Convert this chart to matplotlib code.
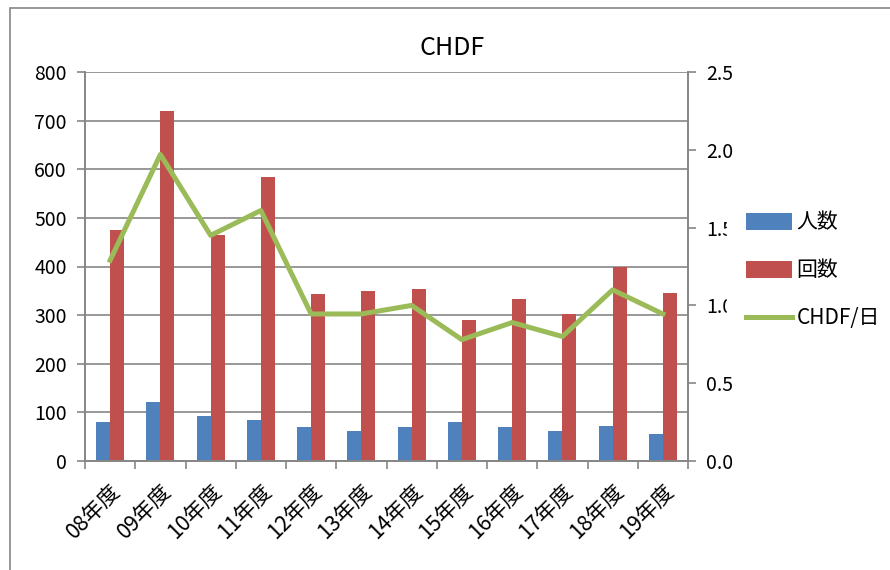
import matplotlib.pyplot as plt
import numpy as np
from matplotlib.patches import Rectangle

plt.rcParams['font.family'] = ['Noto Sans CJK JP', 'DejaVu Sans']

# データ
nendo = ['08年度', '09年度', '10年度', '11年度', '12年度', '13年度',
         '14年度', '15年度', '16年度', '17年度', '18年度', '19年度']
ninzu = [80, 121, 93, 84, 70, 62, 70, 80, 70, 62, 72, 56]
kaisu = [475, 720, 465, 585, 343, 350, 354, 290, 333, 302, 399, 345]
chdf_hi = [1.29, 1.97, 1.45, 1.61, 0.945, 0.945, 1.0, 0.78, 0.89, 0.80, 1.10, 0.945]

ao = '#4F81BD'
aka = '#C0504D'
midori = '#9BBB59'
hai = '#868686'

fig = plt.figure(figsize=(8.9, 5.7), dpi=100)
# 外枠
fig.patches.append(Rectangle((10/890, -0.1), 1.2, 1 - 8/570 + 0.1, transform=fig.transFigure,
                             fill=False, edgecolor=hai, linewidth=1.2))

ax = fig.add_axes([85/890, 1 - 461/570, 603/890, 389/570])
ax2 = ax.twinx()

x = np.arange(len(nendo))
w = 0.28
b1 = ax.bar(x - w/2, ninzu, w, color=ao, label='人数', zorder=2)
b2 = ax.bar(x + w/2, kaisu, w, color=aka, label='回数', zorder=2)
l1, = ax2.plot(x, chdf_hi, color=midori, linewidth=3.6, label='CHDF/日')

ax.set_xlim(-0.5, len(nendo) - 0.5)
ax.set_ylim(0, 800)
ax.set_yticks(range(0, 801, 100))
ax2.set_ylim(0, 2.5)
ax2.set_yticks(np.arange(0, 2.51, 0.5))
ax2.set_yticklabels(['%.1f' % v for v in np.arange(0, 2.51, 0.5)])

ax.yaxis.grid(True, color=hai, linewidth=1.2, zorder=0)
ax.set_axisbelow(True)

# x軸の目盛りはカテゴリの境界
ax.set_xticks(np.arange(-0.5, len(nendo), 1.0))
ax.set_xticklabels([])
ax.set_xticks(x, minor=True)
ax.set_xticklabels(nendo, minor=True, rotation=45, ha='right', rotation_mode='anchor', fontsize=15.5)
ax.tick_params(axis='x', which='minor', length=0, pad=14)
ax.tick_params(axis='x', which='major', length=6, color=hai, width=1.2)

for a in (ax, ax2):
    a.spines['top'].set_visible(False)
    for s in ('left', 'right', 'bottom'):
        a.spines[s].set_color(hai)
        a.spines[s].set_linewidth(1.2)
    a.tick_params(axis='y', length=6, color=hai, width=1.2, labelsize=14, pad=7)

fig.text(0.508, 1 - 48/570, 'CHDF', ha='center', va='center', fontsize=18)

# 凡例は右の目盛りラベルに少し重なる
leg = fig.legend([b1, b2, l1], ['人数', '回数', 'CHDF/日'], loc='upper left',
                 bbox_to_anchor=(727/890, 1 - 192/570), fontsize=15, frameon=True,
                 handlelength=2.2, handleheight=0.9, labelspacing=1.25, handletextpad=0.2,
                 borderpad=0.93, borderaxespad=0, fancybox=False)
leg.get_frame().set_facecolor('white')
leg.get_frame().set_edgecolor('white')
leg.get_frame().set_alpha(1)

fig.savefig('out.png', dpi=100)
